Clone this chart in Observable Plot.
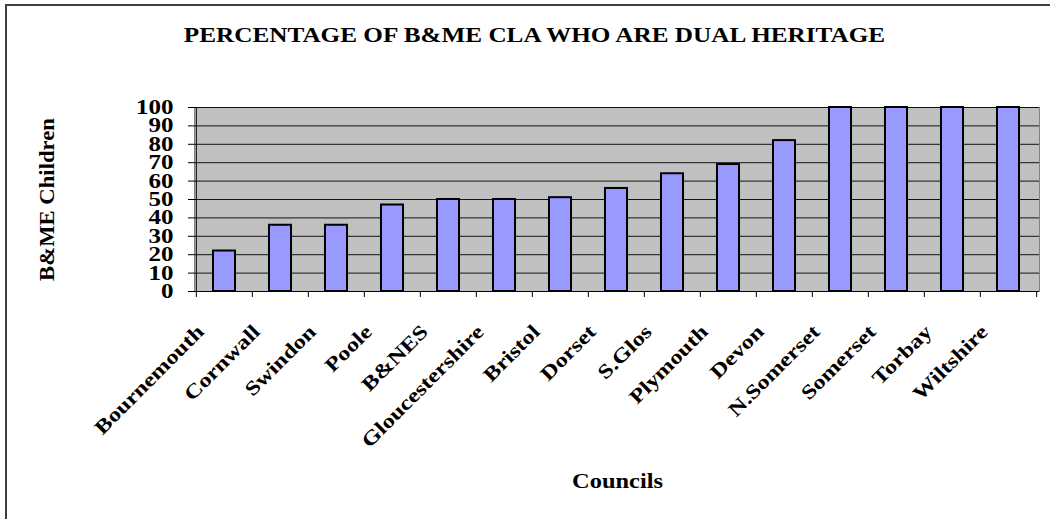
<!DOCTYPE html>
<html>
<head>
<meta charset="utf-8">
<script src="https://cdn.jsdelivr.net/npm/d3@7"></script>
<script src="https://cdn.jsdelivr.net/npm/@observablehq/plot@0.6"></script>
<style>
  html, body { margin: 0; padding: 0; background: white; overflow: hidden; }
  #wrap { position: relative; width: 1050px; height: 519px; overflow: hidden; }
  #border { position: absolute; left: 5px; top: 4px; width: 2000px; height: 2000px;
            border-left: 2px solid #404040; border-top: 2px solid #404040; pointer-events: none; }
  svg { display: block; }
</style>
</head>
<body>
<div id="wrap"><div id="border"></div></div>
<script>
const councils = ["Bournemouth","Cornwall","Swindon","Poole","B&NES","Gloucestershire","Bristol","Dorset","S.Glos","Plymouth","Devon","N.Somerset","Somerset","Torbay","Wiltshire"];
const percentages = [22,36,36,47,50,50,51,56,64,69,82,100,100,100,100];
const yTicks = [0,10,20,30,40,50,60,70,80,90,100];
const titleText = "PERCENTAGE OF B&ME CLA WHO ARE DUAL HERITAGE";
const yTitle = "B&ME Children";
const xTitle = "Councils";

const data = councils.map((c, i) => ({council: c, pct: percentages[i]}));

const W = 1050, H = 519, ML = 194, MR = 11, MT = 107, MB = 228;
const step = (W - ML - MR) / councils.length;
const frameCx = ML + (W - ML - MR) / 2;
const font = "'Liberation Serif', 'Times New Roman', serif";

const chart = Plot.plot({
  width: W, height: H,
  marginLeft: ML, marginRight: MR, marginTop: MT, marginBottom: MB,
  style: {fontFamily: font, fontWeight: "bold", fontSize: "20px", color: "black", background: "transparent", overflow: "visible"},
  x: {domain: councils, paddingInner: 0.6, paddingOuter: 0.3, axis: null},
  y: {domain: [0, 100], axis: null},
  marks: [
    Plot.frame({fill: "#C0C0C0", stroke: "#808080"}),
    Plot.gridY(yTicks, {stroke: "#000", strokeOpacity: 0.9, strokeWidth: 1}),
    Plot.barY(data, {x: "council", y: "pct", fill: "#9999FF", stroke: "black", strokeWidth: 2}),
    Plot.ruleY([0], {stroke: "black"}),
    Plot.ruleX([councils[0]], {dx: -step / 2, stroke: "black"}),
    Plot.axisY(yTicks, {tickSize: 6, tickPadding: 15, fontSize: 20, fontWeight: "bold", label: null, stroke: "black", strokeOpacity: 1}),
    Plot.axisX(councils, {tickSize: 6, tickFormat: () => "", dx: -step / 2, label: null, stroke: "black", strokeOpacity: 1}),
    Plot.axisX([councils[councils.length - 1]], {tickSize: 6, tickFormat: () => "", dx: step / 2, label: null, stroke: "black", strokeOpacity: 1}),
    Plot.text(councils, {x: d => d, frameAnchor: "bottom", rotate: -45, textAnchor: "end", lineAnchor: "middle", dx: -24, dy: 37, fontSize: 20, fontWeight: "bold", fill: "black"}),
    Plot.text([yTitle], {frameAnchor: "left", rotate: -90, textAnchor: "middle", lineAnchor: "middle", dx: 47 - ML, fontSize: 21, fontWeight: "bold", fill: "black"}),
    Plot.text([xTitle], {frameAnchor: "bottom", textAnchor: "middle", lineAnchor: "middle", dx: 617 - frameCx, dy: 190, fontSize: 20, fontWeight: "bold", fill: "black"}),
    Plot.text([titleText], {frameAnchor: "top", textAnchor: "middle", lineAnchor: "middle", dx: 534 - frameCx, dy: 35 - MT, fontSize: 20, fontWeight: "bold", fill: "black"})
  ]
});
document.getElementById("wrap").prepend(chart);

// The reference renders its type horizontally widened; stretch glyphs to match.
function stretch(sel, k) {
  sel.each(function() {
    const len = this.getComputedTextLength();
    this.setAttribute("textLength", (len * k).toFixed(1));
    this.setAttribute("lengthAdjust", "spacingAndGlyphs");
  });
}
const svg = d3.select(chart);
const councilSet = new Set(councils);
stretch(svg.selectAll("text").filter(function() { return councilSet.has(this.textContent); }), 1.22);
stretch(svg.selectAll("text").filter(function() { return /^\d+$/.test(this.textContent); }), 1.25);
stretch(svg.selectAll("text").filter(function() { return this.textContent === titleText; }), 1.26);
stretch(svg.selectAll("text").filter(function() { return this.textContent === xTitle; }), 1.22);
stretch(svg.selectAll("text").filter(function() { return this.textContent === yTitle; }), 1.08);
</script>
</body>
</html>
